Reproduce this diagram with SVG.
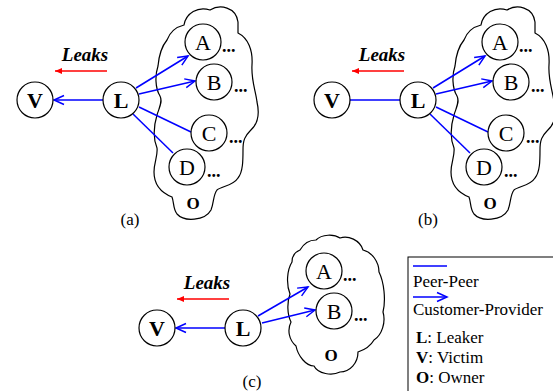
<svg xmlns="http://www.w3.org/2000/svg" width="553" height="391" viewBox="0 0 553 391" font-family="'Liberation Serif', 'Times New Roman', serif">
<defs>
<style>
.n{fill:#fff;stroke:#000;stroke-width:1.2}
.cl{fill:#fff;stroke:#000;stroke-width:1.2}
.t{font-size:22px;text-anchor:middle}
.tb{font-size:22px;text-anchor:middle;font-weight:bold}
.dots{font-size:18px;font-weight:bold}
.o{font-size:17px;text-anchor:middle;font-weight:bold}
.cap{font-size:17px;text-anchor:middle}
.leaks{font-size:19px;font-weight:bold;font-style:italic;text-anchor:middle}
.e{stroke:#0000ff;stroke-width:1.5;fill:none}
.ea{stroke:#0000ff;stroke-width:1.5;fill:none;marker-end:url(#oa)}
.red{stroke:#ff0000;stroke-width:1.5;fill:none;marker-end:url(#ra)}
.lg{font-size:17px}
</style>
<marker id="oa" markerUnits="userSpaceOnUse" markerWidth="14" markerHeight="12" viewBox="-12 -6 14 12" refX="0" refY="0" orient="auto">
<path d="M-10,-4.5 L0,0 L-10,4.5" fill="none" stroke="#0000ff" stroke-width="1.5"/>
</marker>
<marker id="ra" markerUnits="userSpaceOnUse" markerWidth="10" markerHeight="8" viewBox="-8 -4 10 8" refX="0" refY="0" orient="auto">
<path d="M-7,-3 L0,0 L-7,3 Z" fill="#ff0000"/>
</marker>
<path id="cloudA" d="M167,40 C170,32 176,27 184,25 C186,13 198,6 210,10 C220,4 236,7 238,22 L238,33 C248,38 253,50 252,65 C251,80 256,92 257,102 C260,115 257,125 250,131 C245,136 243,140 243,150 C243,160 243,172 238,178 C233,186 222,186 217,190 C213,195 214,203 211,210 C205,221 184,222 177,214 C173,209 174,202 172,197 C162,193 154,185 154,172 C154,162 158,156 157,148 C153,138 154,125 157,115 C159,108 163,102 160,96 C155,88 155,75 158,66 C159,55 162,46 167,40 Z"/>
</defs>
<rect width="553" height="391" fill="#fff"/>

<!-- clouds -->
<g id="cloud-a"><use href="#cloudA" class="cl"/></g>
<g id="cloud-b"><use href="#cloudA" class="cl" transform="translate(297,0)"/></g>
<g id="cloud-c"><path class="cl" d="M300,250 C304,243 310,240 316,240 C322,234 334,234 340,238 C348,235 360,240 363,250 C372,252 379,262 379,272 C384,282 386,300 383,312 C386,322 382,335 374,340 C370,347 364,350 358,352 C358,363 350,372 340,372 C332,376 318,374 314,366 C306,366 298,356 296,346 C289,340 287,330 291,322 C287,314 287,302 290,294 C286,284 287,270 292,262 C292,256 295,252 300,250 Z"/></g>

<!-- connectors -->
<g id="connectors">
<line class="ea" x1="103" y1="100" x2="54" y2="100"/>
<line class="ea" x1="136" y1="88" x2="188" y2="56"/>
<line class="ea" x1="139" y1="94" x2="195" y2="81"/>
<line class="e" x1="139" y1="107" x2="191" y2="132"/>
<line class="e" x1="133" y1="114" x2="173" y2="153"/>
<line class="red" x1="107" y1="71" x2="55" y2="71"/>

<line class="e" x1="350" y1="100" x2="400" y2="100"/>
<line class="ea" x1="433" y1="88" x2="485" y2="56"/>
<line class="ea" x1="436" y1="94" x2="492" y2="81"/>
<line class="e" x1="436" y1="107" x2="488" y2="132"/>
<line class="e" x1="430" y1="114" x2="470" y2="153"/>
<line class="red" x1="404" y1="71" x2="352" y2="71"/>

<line class="ea" x1="225" y1="328" x2="176" y2="328"/>
<line class="ea" x1="258" y1="316" x2="308" y2="287"/>
<line class="ea" x1="262" y1="323" x2="315" y2="310"/>
<line class="red" x1="229" y1="299" x2="177" y2="299"/>
</g>

<!-- panel a -->
<g id="a-V"><circle class="n" cx="35" cy="100" r="18"/><text class="tb" x="35" y="108">V</text></g>
<g id="a-L"><circle class="n" cx="121" cy="100" r="18"/><text class="tb" x="121" y="108">L</text></g>
<g id="a-A"><circle class="n" cx="203" cy="42" r="18"/><text class="t" x="203" y="50">A</text><text class="dots" x="222" y="52">...</text></g>
<g id="a-B"><circle class="n" cx="214" cy="82" r="18"/><text class="t" x="214" y="90">B</text><text class="dots" x="234" y="92">...</text></g>
<g id="a-C"><circle class="n" cx="209" cy="133" r="18"/><text class="t" x="209" y="141">C</text><text class="dots" x="229" y="143">...</text></g>
<g id="a-D"><circle class="n" cx="187" cy="167" r="18"/><text class="t" x="187" y="175">D</text><text class="dots" x="207" y="177">...</text></g>
<g id="a-O"><text class="o" x="193" y="209">O</text></g>
<g id="a-leaks"><text class="leaks" x="85" y="61">Leaks</text></g>
<text class="cap" x="130" y="225">(a)</text>

<!-- panel b -->
<g id="b-V"><circle class="n" cx="332" cy="100" r="18"/><text class="tb" x="332" y="108">V</text></g>
<g id="b-L"><circle class="n" cx="418" cy="100" r="18"/><text class="tb" x="418" y="108">L</text></g>
<g id="b-A"><circle class="n" cx="500" cy="42" r="18"/><text class="t" x="500" y="50">A</text><text class="dots" x="519" y="52">...</text></g>
<g id="b-B"><circle class="n" cx="511" cy="82" r="18"/><text class="t" x="511" y="90">B</text><text class="dots" x="531" y="92">...</text></g>
<g id="b-C"><circle class="n" cx="506" cy="133" r="18"/><text class="t" x="506" y="141">C</text><text class="dots" x="526" y="143">...</text></g>
<g id="b-D"><circle class="n" cx="484" cy="167" r="18"/><text class="t" x="484" y="175">D</text><text class="dots" x="504" y="177">...</text></g>
<g id="b-O"><text class="o" x="490" y="209">O</text></g>
<g id="b-leaks"><text class="leaks" x="382" y="61">Leaks</text></g>
<text class="cap" x="428" y="225">(b)</text>

<!-- panel c -->
<g id="c-V"><circle class="n" cx="157" cy="328" r="18"/><text class="tb" x="157" y="336">V</text></g>
<g id="c-L"><circle class="n" cx="243" cy="328" r="18"/><text class="tb" x="243" y="336">L</text></g>
<g id="c-A"><circle class="n" cx="324" cy="271" r="18"/><text class="t" x="324" y="279">A</text><text class="dots" x="343" y="281">...</text></g>
<g id="c-B"><circle class="n" cx="334" cy="311" r="18"/><text class="t" x="334" y="319">B</text><text class="dots" x="354" y="321">...</text></g>
<g id="c-O"><text class="o" x="331" y="361">O</text></g>
<g id="c-leaks"><text class="leaks" x="207" y="289">Leaks</text></g>
<text class="cap" x="252" y="387">(c)</text>

<!-- legend -->
<g id="legend">
<rect x="408" y="257" width="150" height="140" fill="#fff" stroke="#000" stroke-width="1"/>
<line class="e" x1="413" y1="266" x2="447" y2="266"/>
<text class="lg" x="413" y="287">Peer-Peer</text>
<line class="ea" x1="413" y1="297" x2="447" y2="297"/>
<text class="lg" x="413" y="315">Customer-Provider</text>
<text class="lg" x="416" y="343"><tspan font-weight="bold">L</tspan>: Leaker</text>
<text class="lg" x="416" y="363"><tspan font-weight="bold">V</tspan>: Victim</text>
<text class="lg" x="416" y="383"><tspan font-weight="bold">O</tspan>: Owner</text>
</g>
</svg>
